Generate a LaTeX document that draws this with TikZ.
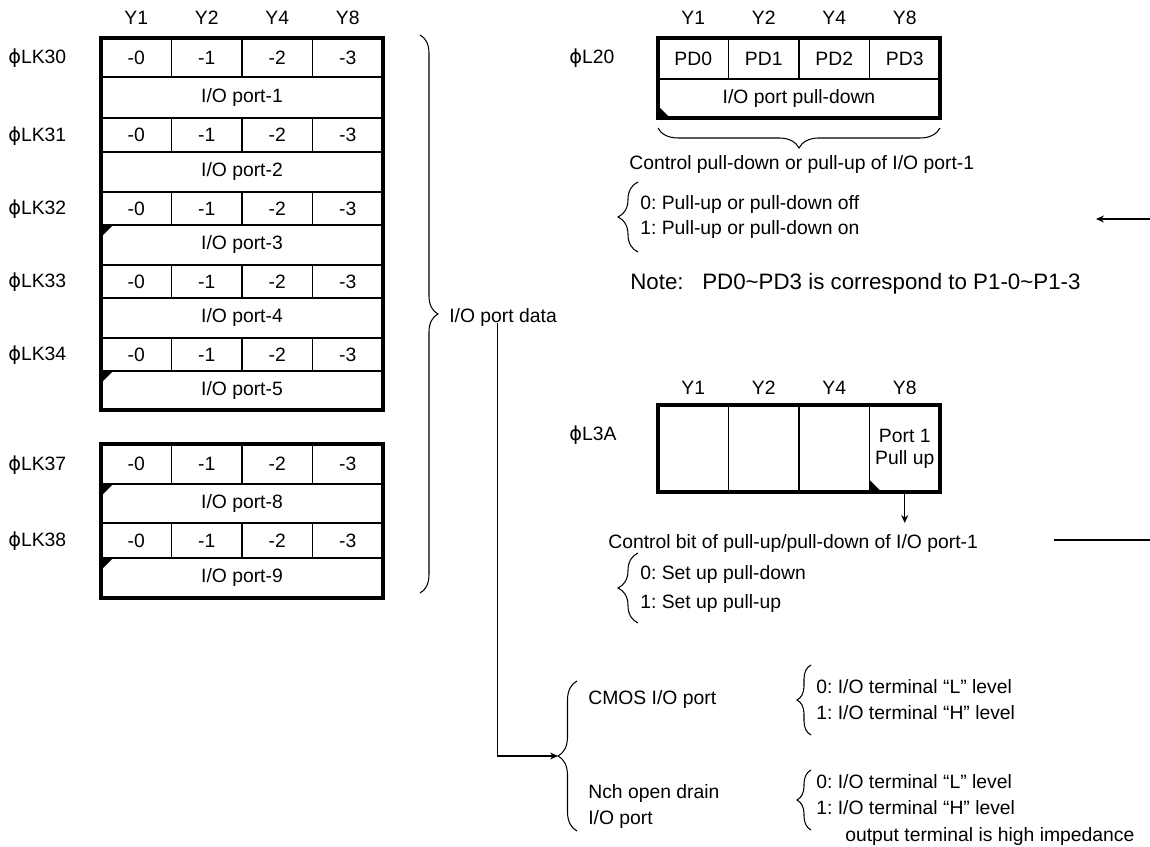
\documentclass[tikz,border=0pt]{standalone}
\usepackage{fontspec}
\setmainfont{Liberation Sans}
\newfontfamily\phifont{DejaVu Sans}
\usetikzlibrary{arrows.meta,decorations.pathreplacing,positioning}
\newcommand{\phisym}{{\phifont ϕ}}
\frenchspacing

\begin{document}
\begin{tikzpicture}[x=0.02cm,y=-0.02cm,>={Stealth[length=4.5pt,width=4pt]},
  font=\fontsize{11}{12.5}\selectfont,
  txt/.style={inner sep=0pt,anchor=west,text height=0.75em,text depth=0.05em},
  hdr/.style={inner sep=0pt,text height=0.75em,text depth=0.05em},
  cell/.style={draw,line width=0.6pt,outer sep=0pt,inner sep=0pt,minimum width=1.41cm},
  wide/.style={cell,minimum width=5.64cm},
  frame/.style={line width=2pt},
  sep/.style={line width=1.6pt},
  wire/.style={line width=0.6pt},
  curly/.style={decorate,decoration={brace,amplitude=#1},line width=0.6pt},
  curly/.default=0.4cm]
  \useasboundingbox (0,0) rectangle (1150,847);

  % I/O port data registers
  \foreach \c/\lab in {0/Y1,1/Y2,2/Y4,3/Y8}
    \node[hdr] (lkhead\c) at ({136.25+70.5*\c},18) {\lab};
  \foreach \nm/\ya/\yb/\yc/\pn/\tg in {30/38/77/118/1/0,31/118/152/192/2/0,32/192/225/265/3/1,33/265/298/338/4/0,34/338/371/410/5/1,37/444/484/523/8/1,38/523/558/598/9/1}{
    \node[txt] (lk\nm) at (8,{(\ya+\yb)/2}) {\phisym LK\nm};
    \foreach \c in {0,...,3}
      \node[cell,minimum height={(\yb-\ya)*0.02cm}] (lk\nm-\c) at ({136.25+70.5*\c},{(\ya+\yb)/2}) {-\c};
    \node[wide,minimum height={(\yc-\yb)*0.02cm}] (port\pn) at (242,{(\yb+\yc)/2}) {I/O port-\pn};
    \draw[sep] (lk\nm-0.north west) -- (lk\nm-3.north east);
    \ifnum\tg=1 \fill (port\pn.north west) -- ++(12,0) -- ++(-12,12) -- cycle; \fi
  }
  \draw[frame] (lk30-0.north west) rectangle (port5.south east);
  \draw[frame] (lk37-0.north west) rectangle (port9.south east);

  \draw[curly=0.36cm] ([xshift=0.74cm,yshift=0.06cm]lk30-3.north east) -- ([xshift=0.74cm,yshift=0.1cm]port9.south east);
  \node[txt] (portdata) at (449,316) {I/O port data};

  % port modes
  \draw[curly=0.38cm] (577,831) -- (577,681);
  \coordinate (modetip) at (558,756);
  \draw[wire,->] ([xshift=-0.12cm]portdata.south) |- (modetip);
  \node[txt] (cmos) at (588,698) {CMOS I/O port};
  \node[txt] (nch) at (588,792) {Nch open drain};
  \node[txt] (nchport) at (588,818) {I/O port};
  \draw[curly=0.28cm] (811,735) -- (811,665);
  \node[txt] (cmos0) at (816,687) {0: I/O terminal “L” level};
  \node[txt] (cmos1) at (816,713) {1: I/O terminal “H” level};
  \draw[curly=0.28cm] (811,830) -- (811,770);
  \node[txt] (nch0) at (816,782) {0: I/O terminal “L” level};
  \node[txt] (nch1) at (816,808) {1: I/O terminal “H” level};
  \node[txt] (nchhiz) at (845,835) {output terminal is high impedance};

  % L20 pull-down register
  \node[txt] (l20) at (569,57) {\phisym L20};
  \foreach \c/\lab in {0/Y1,1/Y2,2/Y4,3/Y8}{
    \node[hdr] (pdhead\c) at ({693.25+70.5*\c},18) {\lab};
    \node[cell,minimum height=0.82cm] (pd\c) at ({693.25+70.5*\c},58.5) {PD\c};
  }
  \node[wide,minimum height=0.78cm] (pulldown) at (799,98.5) {I/O port pull-down};
  \draw[frame] (pd0.north west) rectangle (pulldown.south east);
  \fill (pulldown.south west) -- ++(12,0) -- ++(-12,-12) -- cycle;
  \draw[curly] ([yshift=-0.2cm]pulldown.south east) -- ([yshift=-0.2cm]pulldown.south west);
  \node[txt] (pdctrl) at (629,163) {Control pull-down or pull-up of I/O port-1};
  \draw[curly] (638,252) -- (638,182);
  \node[txt] (pdoff) at (640,203) {0: Pull-up or pull-down off};
  \node[txt] (pdon) at (640,228) {1: Pull-up or pull-down on};
  \coordinate (pdfrom) at (1150,219);
  \coordinate (pdto) at (1096,219);
  \draw[wire,->] (pdfrom) -- (pdto);
  \node[txt,font=\fontsize{12.7}{14}\selectfont] (note) at (630,283) {Note:~~~PD0\textasciitilde PD3 is correspond to P1-0\textasciitilde P1-3};

  % L3A pull-up select register
  \node[txt] (l3a) at (569,434) {\phisym L3A};
  \foreach \c/\lab in {0/Y1,1/Y2,2/Y4,3/Y8}
    \node[hdr] (puhead\c) at ({693.25+70.5*\c},388) {\lab};
  \foreach \c in {0,1,2}
    \node[cell,minimum height=1.74cm] (pu\c) at ({693.25+70.5*\c},448.5) {};
  \node[cell,minimum height=1.74cm,align=center] (pu3) at (904.75,448.5) {Port 1\\Pull up};
  \draw[frame] (pu0.north west) rectangle (pu3.south east);
  \fill (pu3.south west) -- ++(12,0) -- ++(-12,-12) -- cycle;
  \coordinate (bitend) at (904.75,523);
  \draw[wire,->] (pu3.south) -- (bitend);
  \node[txt] (ctrlbit) at (608,542) {Control bit of pull-up/pull-down of I/O port-1};
  \coordinate (linefrom) at (1150,540);
  \coordinate (lineto) at (1054,540);
  \draw[wire] (linefrom) -- (lineto);
  \draw[curly] (638,623) -- (638,553);
  \node[txt] (pudown) at (640,573) {0: Set up pull-down};
  \node[txt] (puup) at (640,602) {1: Set up pull-up};
\end{tikzpicture}
\end{document}
